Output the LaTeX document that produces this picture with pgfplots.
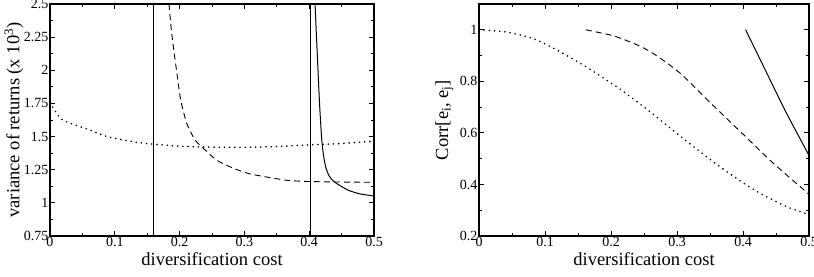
\documentclass[border=0pt]{standalone}
\usepackage{pgfplots}
\pgfplotsset{compat=1.18}
\usepackage{fontspec}
\setmainfont{Liberation Serif}
\newcommand{\lblfont}{\fontsize{18.5}{20}\selectfont}
\newcommand{\tickfont}{\fontsize{14}{15}\selectfont}
\begin{document}
\begin{tikzpicture}
\pgfplotsset{
  myax/.style={
    scale only axis,
    xmin=0, xmax=0.5,
    xtick={0,0.1,0.2,0.3,0.4,0.5},
    minor x tick num=1,
    minor y tick num=1,
    tick pos=both,
    tick align=inside,
    major tick length=5pt,
    minor tick length=3pt,
    axis line style={line width=1.1pt},
    every tick/.style={line width=0.8pt, black},
    /pgf/number format/assume math mode=true,
    xticklabel style={inner sep=1pt, font=\tickfont},
    yticklabel style={inner sep=1.5pt, font=\tickfont},
    every axis x label/.style={at={(axis description cs:0.5,-0.101)}, anchor=center, font=\lblfont},
    clip=true,
  },
  dotl/.style={black, line width=1.8pt, dash pattern=on 0pt off 5.2pt, line cap=round},
  dashl/.style={black, line width=0.9pt, dash pattern=on 6pt off 4pt},
  soll/.style={black, line width=1pt},
}
\begin{axis}[myax,
  at={(50pt,40pt)}, anchor=south west,
  width=324pt, height=232pt,
  ymin=0.75, ymax=2.5,
  ytick={0.75,1,1.25,1.5,1.75,2,2.25,2.5},
  yticklabels={0.75,1,1.25,1.5,1.75,2,2.25,2.5},
  xticklabels={0,0.1,0.2,0.3,0.4,0.5},
  xlabel={diversification cost},
  ylabel={variance of returns (x 10\textsuperscript{3})},
  every axis y label/.style={at={(axis description cs:-0.111,0.5)}, rotate=90, anchor=center, font=\lblfont},
]
\addplot[dotl, smooth, tension=0.5] coordinates {
 (0,1.756) (0.0077,1.695) (0.018,1.63) (0.04,1.585) (0.0617,1.55) (0.0875,1.501)
 (0.1286,1.461) (0.161,1.442) (0.216,1.424) (0.293,1.419) (0.35,1.425)
 (0.396,1.436) (0.45,1.448) (0.5,1.465)};
\addplot[dashl, smooth, tension=0.4] coordinates {
 (0.1836,2.5) (0.1878,2.28) (0.1944,2.03) (0.2016,1.78) (0.211,1.60) (0.2238,1.474)
 (0.234,1.424) (0.257,1.323) (0.283,1.261) (0.309,1.218) (0.352,1.18) (0.370,1.168)
 (0.4,1.161) (0.45,1.157) (0.5,1.155)};
\addplot[soll, smooth, tension=0.35] coordinates {
 (0.409,2.5) (0.4108,2.3) (0.4125,2.12) (0.4145,1.9) (0.4165,1.70) (0.4193,1.48)
 (0.422,1.36) (0.4255,1.27) (0.430,1.21) (0.436,1.17) (0.445,1.138) (0.4604,1.095)
 (0.478,1.068) (0.4965,1.054) (0.5,1.052)};
\addplot[soll] coordinates {(0.16,0.75) (0.16,2.5)};
\addplot[soll] coordinates {(0.402,0.75) (0.402,2.5)};
\end{axis}
\begin{axis}[myax,
  at={(479pt,40pt)}, anchor=south west,
  width=330pt, height=232pt,
  ymin=0.2, ymax=1.1,
  ytick={0.2,0.4,0.6,0.8,1},
  yticklabels={0.2,0.4,0.6,0.8,1},
  xticklabels={0,0.1,0.2,0.3,0.4,0.5},
  xlabel={diversification cost},
  ylabel={Corr[e\textsubscript{i}, e\textsubscript{j}]},
  every axis y label/.style={at={(axis description cs:-0.105,0.5)}, rotate=90, anchor=center, font=\lblfont},
]
\addplot[dotl, smooth, tension=0.5] coordinates {
 (0,1.0) (0.037,0.993) (0.062,0.98) (0.087,0.961) (0.1126,0.929) (0.138,0.893)
 (0.163,0.855) (0.188,0.814) (0.2136,0.77) (0.244,0.712) (0.264,0.672) (0.315,0.567)
 (0.365,0.469) (0.4156,0.381) (0.466,0.314) (0.5,0.284)};
\addplot[dashl, smooth, tension=0.5] coordinates {
 (0.162,1.0) (0.1985,0.98) (0.2136,0.968) (0.239,0.942) (0.264,0.908) (0.3045,0.832)
 (0.35,0.718) (0.4005,0.594) (0.446,0.482) (0.5,0.362)};
\addplot[soll, smooth, tension=0.5] coordinates {
 (0.404,1.0) (0.441,0.806) (0.466,0.676) (0.5,0.513)};
\end{axis}
\pgfresetboundingbox
\path[use as bounding box] (0,0) rectangle (814pt,276pt);
\end{tikzpicture}
\end{document}
